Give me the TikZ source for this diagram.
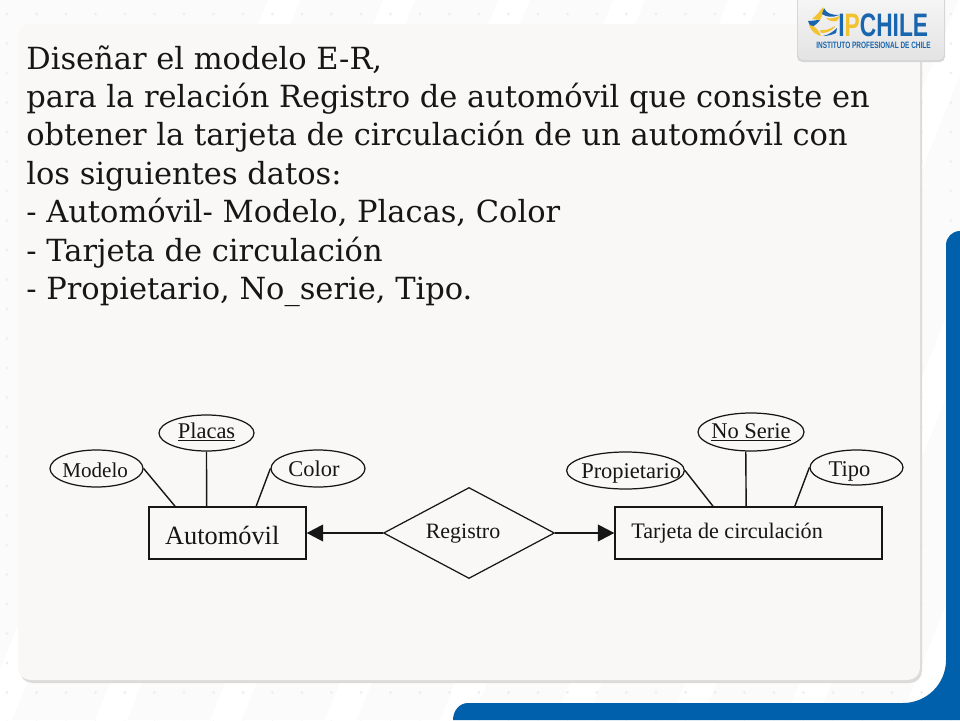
\documentclass[tikz,border=0pt]{standalone}
\usepackage{fontspec}
\setmainfont{DejaVu Serif}
\newfontfamily\erfont{Liberation Serif}
\newfontfamily\logofont[FakeStretch=.7]{Liberation Sans}
\usetikzlibrary{positioning, arrows.meta}
\usetikzlibrary{shapes}

\definecolor{ipblue}{HTML}{0060AC}
\definecolor{panelfill}{HTML}{F9F8F6}
\definecolor{panelshade}{HTML}{DCDBD9}
\definecolor{pagefill}{HTML}{FBFBFB}
\definecolor{pagedot}{HTML}{EFEFEF}
\definecolor{ipyellow}{HTML}{F2C230}
\definecolor{logoblue}{HTML}{1A66AE}
\definecolor{inkcolor}{HTML}{161616}

\tikzset{
	attr/.style={draw=inkcolor,text=inkcolor,ellipse,line width=.7pt,inner xsep=-8pt,inner ysep=-3pt,text height=10pt,text depth=2pt,font=\erfont\fontsize{12.8}{12.8}\selectfont},
	entity/.style={draw=inkcolor,text=inkcolor,line width=.8pt,inner sep=0pt,text height=10pt,text depth=2pt,font=\erfont\fontsize{15}{15}\selectfont},
	link/.style={draw=inkcolor,line width=.8pt},
	tip/.style={-{Triangle[length=9.3pt,width=9.5pt]},draw=inkcolor,fill=inkcolor,line width=.8pt},
	heading/.style={anchor=base west,inner sep=0pt,text=inkcolor,font=\fontsize{17.35}{17.35}\selectfont}
}

\begin{document}
\begin{tikzpicture}[x=.02cm,y=-.02cm]
		\useasboundingbox (0,0) rectangle (960,720);
		\fill[pagefill] (0,0) rectangle (960,720);
		\foreach \i in {0,...,9}
			\fill[white] (\i*115-20,720) -- (\i*115+12,720) -- (\i*115+300,0) -- (\i*115+268,0) -- cycle;
		\foreach \i in {0,...,32}
			\foreach \j in {0,...,24}
				\fill[pagedot] (7+\i*29.5,14+\j*29.5) circle (1.6);

		% blue border
		\fill[ipblue] (960,231) to[out=180,in=90] (946,245) -- (946,660)
			to[out=-90,in=0] (903,703) -- (468,703) to[out=180,in=90] (453,720) -- (960,720) -- cycle;

		% panel
		\fill[panelshade,rounded corners=7pt] (20,27) rectangle (922,683);
		\fill[panelfill,rounded corners=7pt] (18,24) rectangle (920,680);

		% logo
		\fill[black!16,rounded corners=3pt] (797,-8) rectangle (945,62);
		\shade[top color=black!3,bottom color=black!11,rounded corners=3pt] (798,-8) rectangle (944,60);
		\fill[ipyellow] (812,19) .. controls (817,15) and (820,11) .. (823,7) .. controls (824,12) and (822,16) .. (820,20) -- cycle;
		\fill[logoblue] (824,8) .. controls (826,13) and (831,15) .. (839,15) .. controls (833,18) and (826,17) .. (822,14) -- cycle;
		\fill[ipyellow] (826,18) .. controls (830,19) and (835,18) .. (840,16) -- (837,21) .. controls (833,22) and (829,21) .. (826,18) -- cycle;
		\fill[logoblue] (808,21) .. controls (812,21) and (816,20) .. (820,20) .. controls (818,23) and (814,26) .. (811,28) -- cycle;
		\fill[ipyellow] (809,25) .. controls (814,25) and (819,30) .. (821,36) .. controls (816,35) and (811,31) .. (809,25) -- cycle;
		\fill[logoblue] (823,36) .. controls (828,35) and (833,32) .. (837,28) -- (836,33) .. controls (832,35) and (827,36) .. (823,36) -- cycle;
		\fill[ipyellow] (820,30) .. controls (825,31) and (830,29) .. (835,26) -- (834,28) .. controls (830,32) and (825,33) .. (821,33) -- cycle;
		\node[anchor=base west,inner sep=0pt,font=\logofont\bfseries\fontsize{18.5}{18.5}\selectfont] (logoname) at (838,36.5) {\textcolor{logoblue}{I}\textcolor{ipyellow}{P}\textcolor{logoblue}{CHILE}};
		\node[anchor=base west,inner sep=0pt,text=logoblue,font=\logofont\bfseries\fontsize{5.25}{5.25}\selectfont] (logosub) at (816,48.5) {INSTITUTO PROFESIONAL DE CHILE};

		% statement
		\node[heading] (t1) at (26,69) {Diseñar el modelo E-R,};
		\node[heading] (t2) at (26,107) {para la relación Registro de automóvil que consiste en};
		\node[heading] (t3) at (26,145) {obtener la tarjeta de circulación de un automóvil con};
		\node[heading] (t4) at (26,184) {los siguientes datos:};
		\node[heading] (t5) at (26,222) {- Automóvil- Modelo, Placas, Color};
		\node[heading] (t6) at (26,261) {- Tarjeta de circulación};
		\node[heading] (t7) at (26,299) {- Propietario, No\_serie, Tipo.};

		% entities
		\node[entity,minimum width=157*.02cm,minimum height=52*.02cm] (Automovil) at (227.5,533) {\hspace*{-6pt}\raisebox{-2.3pt}{Automóvil}};
		\node[entity,minimum width=267*.02cm,minimum height=52*.02cm,font=\erfont\fontsize{12.6}{12.6}\selectfont] (Tarjeta) at (748.5,533) {\hspace*{-24.4pt}\raisebox{1.1pt}{Tarjeta de circulación}};
		\node[draw=inkcolor,text=inkcolor,diamond,line width=.7pt,aspect=1.87,inner sep=0pt,text height=10pt,text depth=2pt,minimum width=171*.02cm,minimum height=91*.02cm,font=\erfont\fontsize{12.5}{12.5}\selectfont] (Registro) at (469,533) {\hspace*{-6.8pt}\raisebox{1.1pt}{Registro}};

		% attributes
		\node[attr,minimum width=93*.02cm,minimum height=37*.02cm,font=\erfont\fontsize{12}{12}\selectfont] (Modelo) at (96.5,468.5) {\hspace*{-1.5pt}\raisebox{-1.4pt}{Modelo}};
		\node[attr,minimum width=95*.02cm,minimum height=36*.02cm] (Placas) at (206.5,433) {\raisebox{1.1pt}{\underline{Placas}}};
		\node[attr,minimum width=94*.02cm,minimum height=37*.02cm] (Color) at (318,468.5) {\hspace*{-4.5pt}\raisebox{-.8pt}{Color}};
		\node[attr,minimum width=115*.02cm,minimum height=37*.02cm] (Propietario) at (625.5,470.5) {\hspace*{6.5pt}\raisebox{-.3pt}{Propietario}};
		\node[attr,minimum width=106*.02cm,minimum height=38*.02cm] (NoSerie) at (751,432) {\raisebox{.5pt}{\underline{No Serie}}};
		\node[attr,minimum width=93*.02cm,minimum height=35*.02cm] (Tipo) at (856.5,467.5) {\hspace*{-8pt}\raisebox{-1.4pt}{Tipo}};

		\path[link] (Modelo.east) -- (Automovil.153);
		\path[link] (Placas.south) -- (Automovil.128);
		\path[link] (Color.west) -- (Automovil.43);
		\path[link] (Propietario.east) -- (Tarjeta.143);
		\path[link] (NoSerie.255) -- (Tarjeta.95);
		\path[link] (Tipo.west) -- (Tarjeta.30);

		\draw[tip] (Registro.west) -- (Automovil.east);
		\draw[tip] (Registro.east) -- (Tarjeta.west);
	\end{tikzpicture}
\end{document}
